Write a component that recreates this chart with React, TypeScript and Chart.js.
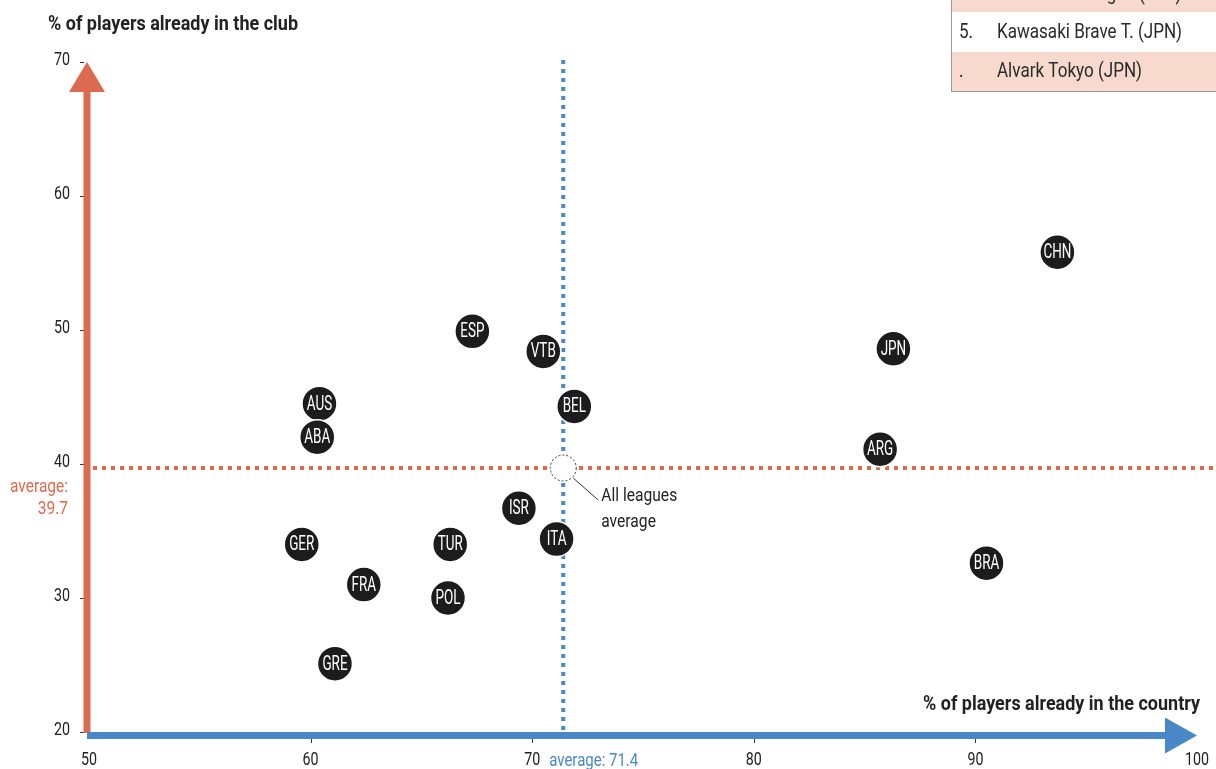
import React, { useEffect, useRef } from "react";
import { Chart, registerables } from "chart.js";

Chart.register(...registerables);

const leagues = ["CHN", "JPN", "ARG", "BRA", "ESP", "VTB", "BEL", "AUS", "ABA", "ISR", "ITA", "GER", "TUR", "FRA", "POL", "GRE"];
const inCountry = [93.7, 86.3, 85.7, 90.5, 67.3, 70.5, 71.9, 60.4, 60.3, 69.4, 71.1, 59.6, 66.3, 62.4, 66.2, 61.1];
const inClub = [55.8, 48.6, 41.1, 32.6, 49.9, 48.4, 44.3, 44.5, 42.0, 36.7, 34.4, 34.0, 34.0, 31.0, 30.0, 25.1];
const avgCountry = 71.4;
const avgClub = 39.7;
const xTicks = [50, 60, 70, 80, 90, 100];
const yTicks = [20, 30, 40, 50, 60, 70];
const rankNums = ["4.", "5.", "."];
const rankTeams = ["Hereda SP Burgos (ESP)", "Kawasaki Brave T. (JPN)", "Alvark Tokyo (JPN)"];

const FONT = "Roboto, 'Noto Sans', sans-serif";
const ORANGE = "#dc6a4f";
const BLUE = "#4a87c7";

// draw horizontally condensed text; sx = horizontal scale
function txt(ctx: any, s: string, x: number, y: number, size: number, sx: number, color: string, align: string, bold = false) {
  ctx.save();
  ctx.font = `${bold ? "bold " : ""}${size}px ${FONT}`;
  ctx.fillStyle = color;
  ctx.textBaseline = "middle";
  ctx.textAlign = align;
  ctx.translate(x, y);
  ctx.scale(sx, 1);
  ctx.fillText(s, 0, 0);
  ctx.restore();
}
function fitScale(ctx: any, s: string, size: number, target: number, bold = false) {
  ctx.save();
  ctx.font = `${bold ? "bold " : ""}${size}px ${FONT}`;
  const w = ctx.measureText(s).width;
  ctx.restore();
  return target / w;
}

const overlay = {
  id: "overlay",
  beforeDatasetsDraw(chart: any) {
    const ctx = chart.ctx;
    const xs = chart.scales.x;
    const ys = chart.scales.y;
    const ax = xs.getPixelForValue(avgCountry);
    const ay = ys.getPixelForValue(avgClub);
    const x0 = xs.getPixelForValue(50);
    const y0 = ys.getPixelForValue(20);
    const yTop = ys.getPixelForValue(70);
    const xEnd = xs.getPixelForValue(100);
    ctx.save();
    // tick marks
    ctx.strokeStyle = "#333";
    ctx.lineWidth = 1;
    xs.ticks.forEach((t: any) => {
      if (t.value <= 50 || t.value >= 100) return;
      const px = Math.round(xs.getPixelForValue(t.value)) + 0.5;
      ctx.beginPath();
      ctx.moveTo(px, y0 + 6);
      ctx.lineTo(px, y0 + 11);
      ctx.stroke();
    });
    ys.ticks.forEach((t: any) => {
      const py = Math.round(ys.getPixelForValue(t.value)) + 0.5;
      ctx.beginPath();
      ctx.moveTo(x0 - 9, py);
      ctx.lineTo(x0 - 5, py);
      ctx.stroke();
    });
    // tick labels
    const tsx = fitScale(ctx, "70", 19, 16);
    xs.ticks.forEach((t: any) => {
      txt(ctx, String(t.value), xs.getPixelForValue(t.value), 760, 19, tsx, "#222", "center");
    });
    ys.ticks.forEach((t: any) => {
      txt(ctx, String(t.value), 70, ys.getPixelForValue(t.value) - 2, 19, tsx, "#222", "right");
    });
    // average dotted lines
    ctx.lineWidth = 4;
    ctx.setLineDash([4, 5]);
    ctx.strokeStyle = ORANGE;
    ctx.beginPath();
    ctx.moveTo(x0 + 4, ay);
    ctx.lineTo(chart.width, ay);
    ctx.stroke();
    ctx.strokeStyle = BLUE;
    ctx.beginPath();
    ctx.moveTo(ax, yTop - 2);
    ctx.lineTo(ax, y0 - 2);
    ctx.stroke();
    ctx.setLineDash([]);
    // orange y axis arrow
    const ox = x0 - 2;
    ctx.fillStyle = ORANGE;
    ctx.fillRect(ox - 3.5, yTop + 28, 7, y0 - yTop - 27);
    ctx.beginPath();
    ctx.moveTo(ox, yTop);
    ctx.lineTo(ox - 18, yTop + 30);
    ctx.lineTo(ox + 18, yTop + 30);
    ctx.closePath();
    ctx.fill();
    // blue x axis arrow
    const by = y0 + 3.5;
    ctx.fillStyle = BLUE;
    ctx.fillRect(x0 - 2, by - 3.5, xEnd - x0 - 28, 7);
    ctx.beginPath();
    ctx.moveTo(xEnd, by);
    ctx.lineTo(xEnd - 32, by - 18);
    ctx.lineTo(xEnd - 32, by + 18);
    ctx.closePath();
    ctx.fill();
    // axis titles
    const t1 = "% of players already in the club";
    txt(ctx, t1, 48, 25, 20, fitScale(ctx, t1, 20, 250, true), "#222", "left", true);
    const t2 = "% of players already in the country";
    txt(ctx, t2, xEnd + 3, 705, 20, fitScale(ctx, t2, 20, 277, true), "#222", "right", true);
    // average labels
    const asx = fitScale(ctx, "average:", 19, 58);
    txt(ctx, "average:", 68, ay + 19, 19, asx, ORANGE, "right");
    txt(ctx, "39.7", 68, ay + 41, 19, asx, ORANGE, "right");
    txt(ctx, "average: 71.4", ax - 14, 761, 19, fitScale(ctx, "average: 71.4", 19, 89), BLUE, "left");
    // all leagues average marker
    ctx.fillStyle = "#fff";
    ctx.strokeStyle = "#333";
    ctx.lineWidth = 1;
    ctx.setLineDash([2, 2]);
    ctx.beginPath();
    ctx.arc(ax, ay, 13, 0, Math.PI * 2);
    ctx.fill();
    ctx.stroke();
    ctx.setLineDash([]);
    ctx.beginPath();
    ctx.moveTo(ax + 10, ay + 10);
    ctx.lineTo(ax + 35, ay + 32);
    ctx.stroke();
    const lsx = fitScale(ctx, "All leagues", 19, 76);
    txt(ctx, "All leagues", ax + 38, ay + 28, 19, lsx, "#222", "left");
    txt(ctx, "average", ax + 38, ay + 54, 19, lsx, "#222", "left");
    // ranking table
    const bx = 951;
    const rowCenters = [-5, 33, 72];
    const rowBands = [[-40, 12], [12, 52], [52, 91]];
    const rsx = fitScale(ctx, rankTeams[1], 21, 185);
    rankTeams.forEach((t, i) => {
      ctx.fillStyle = i % 2 === 0 ? "#f7dacd" : "#ffffff";
      ctx.fillRect(bx, rowBands[i][0], chart.width - bx, rowBands[i][1] - rowBands[i][0]);
      txt(ctx, rankNums[i], bx + 8, rowCenters[i], 21, rsx, "#2a2a2a", "left");
      txt(ctx, t, bx + 46, rowCenters[i], 21, rsx, "#2a2a2a", "left");
    });
    ctx.strokeStyle = "#9a9a9a";
    ctx.lineWidth = 1;
    ctx.strokeRect(bx + 0.5, -5, chart.width, 96.5);
    ctx.restore();
  },
  afterDatasetsDraw(chart: any) {
    const ctx = chart.ctx;
    const meta = chart.getDatasetMeta(0);
    const bsx = fitScale(ctx, "CHN", 20, 28);
    meta.data.forEach((pt: any, i: number) => {
      txt(ctx, leagues[i], pt.x, pt.y + 1, 20, bsx, "#fff", "center");
    });
  },
};

export default function App() {
  const ref = useRef<HTMLCanvasElement>(null);
  useEffect(() => {
    if (!ref.current) return;
    const chart = new Chart(ref.current, {
      type: "scatter",
      data: {
        datasets: [
          {
            data: leagues.map((_, i) => ({ x: inCountry[i], y: inClub[i] })),
            backgroundColor: "#1c1c1c",
            borderColor: "#ffffff",
            borderWidth: 1.5,
            pointRadius: 17.5,
            pointHoverRadius: 17.5,
            clip: false as any,
          },
        ],
      },
      options: {
        animation: false,
        responsive: false,
        events: [],
        layout: { padding: { top: 62, right: 16, left: 0, bottom: 0 } },
        plugins: { legend: { display: false }, tooltip: { enabled: false } },
        scales: {
          x: {
            type: "linear",
            min: 50,
            max: 100,
            afterFit: (s: any) => { s.height = 37; },
            afterBuildTicks: (s: any) => { s.ticks = xTicks.map((v) => ({ value: v })); },
            border: { display: false },
            grid: { display: false },
            ticks: { display: false },
          },
          y: {
            type: "linear",
            min: 20,
            max: 70,
            afterFit: (s: any) => { s.width = 89; },
            afterBuildTicks: (s: any) => { s.ticks = yTicks.map((v) => ({ value: v })); },
            border: { display: false },
            grid: { display: false },
            ticks: { display: false },
          },
        },
      },
      plugins: [overlay],
    });
    return () => chart.destroy();
  }, []);
  return (
    <div style={{ position: "fixed", left: 0, top: 0, width: 1216, height: 769, background: "#fff" }}>
      <canvas ref={ref} width={1216} height={769} style={{ width: 1216, height: 769 }} />
    </div>
  );
}
